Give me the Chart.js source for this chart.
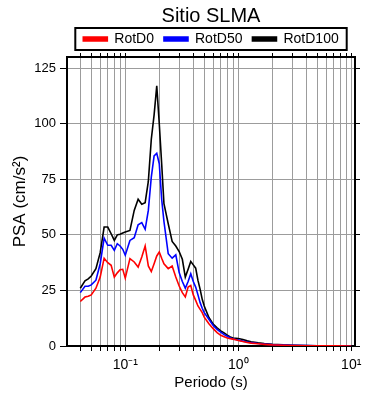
<!DOCTYPE html>
<html>
<head>
<meta charset="utf-8">
<script src="https://cdn.jsdelivr.net/npm/chart.js@4.4.1/dist/chart.umd.min.js"></script>
<style>
  body { margin: 0; background: #fff; }
</style>
</head>
<body>
<canvas id="psaChart" width="390" height="400"></canvas>
<script>
// Periodos (s)
const periodos = [
  0.04, 0.044, 0.047, 0.05, 0.055, 0.06, 0.065, 0.07, 0.075, 0.08, 0.085, 0.09, 0.095, 0.1,
  0.11, 0.12, 0.13, 0.14, 0.15, 0.16, 0.17, 0.18, 0.19, 0.2, 0.21, 0.22, 0.24, 0.26, 0.28, 0.3,
  0.32, 0.34, 0.36, 0.38, 0.4, 0.42, 0.44, 0.46, 0.48, 0.5, 0.55, 0.6, 0.65, 0.7, 0.75, 0.8,
  0.85, 0.9, 0.95, 1.0, 1.1, 1.2, 1.3, 1.5, 1.7, 2.0, 2.5, 3.0, 4.0, 5.0, 6.0, 7.5, 10
];

// PSA (cm/s2)
const rotD0 = [
  20, 22, 22.4, 23, 26, 31, 39.5, 37.5, 36.3, 31, 32.9, 34.3, 34.5, 30.5,
  39.3, 37.8, 35.5, 40, 45, 36, 33.5, 37, 40.5, 42.3, 39.5, 37, 34.8, 36, 31, 27,
  24, 22.1, 26.5, 27.2, 23, 20.5, 18, 16.5, 15, 13, 10, 7.8, 6, 4.8, 4.2, 3.6,
  3.3, 3.1, 2.8, 2.5, 2.0, 1.6, 1.3, 1.0, 0.75, 0.5, 0.35, 0.25, 0.14, 0.09, 0.06, 0.04, 0.02
];
const rotD50 = [
  24, 26.9, 26.9, 27.5, 29.6, 37, 48.5, 45.3, 45.3, 43, 46, 45, 43.5, 40.8,
  47.5, 48.7, 54.5, 55.5, 52.5, 61, 76, 85.5, 86.7, 82, 66, 56, 41.5, 39.5, 41, 33,
  29, 26, 29, 32.5, 29, 26.5, 23, 19.5, 17, 15, 12, 9.2, 7.5, 6.2, 5.1, 4.4,
  3.7, 3.2, 2.9, 2.7, 2.2, 1.8, 1.5, 1.1, 0.85, 0.6, 0.4, 0.28, 0.16, 0.1, 0.07, 0.04, 0.02
];
const rotD100 = [
  26, 29.3, 30.2, 31.5, 34.8, 42, 53.5, 53.5, 50.5, 47.5, 50, 50.3, 50.8, 51.3,
  52, 61, 66, 63.8, 64.5, 74, 93, 104, 117, 100, 82, 64, 55, 47, 45, 42.5,
  39, 31, 34.5, 38, 36.5, 35, 29.5, 25.5, 21, 18, 12.8, 9.8, 8.2, 6.8, 5.9, 4.9,
  4.1, 3.6, 3.5, 3.4, 2.9, 2.3, 1.9, 1.4, 1.1, 0.8, 0.5, 0.35, 0.2, 0.12, 0.08, 0.05, 0.03
];

// Marcas de los ejes
const xTicks = [
  0.04, 0.05, 0.06, 0.07, 0.08, 0.09,
  0.1, 0.2, 0.3, 0.4, 0.5, 0.6, 0.7, 0.8, 0.9,
  1, 2, 3, 4, 5, 6, 7, 8, 9, 10
];
const xTickLabels = [[0.1, '10⁻¹'], [1, '10⁰'], [10, '10¹']];
const yTicks = [0, 25, 50, 75, 100, 125];

Chart.defaults.font.family = "'Liberation Sans', Arial, Helvetica, sans-serif";
Chart.defaults.color = '#000';

const gridGray = '#9c9c9c';

function toXY(values) {
  return periodos.map((t, i) => ({ x: t, y: values[i] }));
}

function xLabel(v) {
  const found = xTickLabels.find(p => Math.abs(p[0] - v) < 1e-9);
  return found ? found[1] : '';
}

// recuadro alrededor de la leyenda
const legendFrame = {
  id: 'legendFrame',
  afterDraw(chart) {
    const boxes = chart.legend.legendHitBoxes;
    if (!boxes || !boxes.length) return;
    const first = boxes[0];
    const last = boxes[boxes.length - 1];
    const ctx = chart.ctx;
    ctx.save();
    ctx.strokeStyle = '#000';
    ctx.lineWidth = 2;
    ctx.strokeRect(first.left - 8, first.top - 4,
      last.left + last.width + 8 - (first.left - 8), first.height + 8);
    ctx.restore();
  }
};

new Chart(document.getElementById('psaChart'), {
  type: 'line',
  data: {
    datasets: [
      { label: 'RotD0', data: toXY(rotD0), borderColor: '#ff0000', backgroundColor: '#ff0000' },
      { label: 'RotD50', data: toXY(rotD50), borderColor: '#0000ff', backgroundColor: '#0000ff' },
      { label: 'RotD100', data: toXY(rotD100), borderColor: '#000000', backgroundColor: '#000000' }
    ]
  },
  options: {
    responsive: false,
    animation: false,
    devicePixelRatio: 1,
    layout: { padding: 0 },
    elements: {
      line: { borderWidth: 1.6, tension: 0, fill: false },
      point: { radius: 0 }
    },
    plugins: {
      title: {
        display: true,
        text: 'Sitio SLMA',
        fullSize: false,
        color: '#000',
        font: { size: 20, weight: 'normal' },
        padding: { top: 4, bottom: -6 }
      },
      legend: {
        display: true,
        fullSize: false,
        labels: {
          boxWidth: 24,
          boxHeight: 4,
          padding: 10,
          color: '#000',
          font: { size: 14 }
        }
      },
      tooltip: { enabled: false }
    },
    scales: {
      x: {
        type: 'logarithmic',
        position: 'bottom',
        min: 0.0305,
        max: 10.8,
        afterBuildTicks: s => { s.ticks = xTicks.map(v => ({ value: v })); },
        afterFit: s => { s.height = 54; },
        grid: { color: gridGray, tickColor: '#000', tickLength: 5 },
        border: { color: '#000', width: 2 },
        ticks: { autoSkip: false, maxRotation: 0, padding: 6, color: '#000', font: { size: 14 }, callback: v => xLabel(v) },
        title: { display: true, text: 'Periodo (s)', color: '#000', font: { size: 15 }, padding: { top: 0, bottom: 8 } }
      },
      x2: {
        type: 'logarithmic',
        position: 'top',
        min: 0.0305,
        max: 10.8,
        afterBuildTicks: s => { s.ticks = xTicks.map(v => ({ value: v })); },
        afterFit: s => { s.height = 1; },
        grid: { drawOnChartArea: false, tickColor: '#000', tickLength: 4 },
        border: { color: '#000', width: 2 },
        ticks: { display: false }
      },
      y: {
        position: 'left',
        min: 0,
        max: 130,
        afterBuildTicks: s => { s.ticks = yTicks.map(v => ({ value: v })); },
        afterFit: s => { s.width = 67; },
        grid: {
          color: c => (c.tick && c.tick.value === 0) ? 'rgba(0,0,0,0)' : gridGray,
          tickColor: '#000',
          tickLength: 7
        },
        border: { color: '#000', width: 2 },
        ticks: { padding: 4, color: '#000', font: { size: 13 } },
        title: { display: true, text: 'PSA (cm/s²)', color: '#000', font: { size: 17 }, padding: { top: 10, bottom: 0 } }
      },
      y2: {
        position: 'right',
        min: 0,
        max: 130,
        afterBuildTicks: s => { s.ticks = yTicks.map(v => ({ value: v })); },
        afterFit: s => { s.width = 35; },
        grid: { drawOnChartArea: false, tickColor: '#000', tickLength: 5 },
        border: { color: '#000', width: 2 },
        ticks: { display: false }
      }
    }
  },
  plugins: [legendFrame]
});
</script>
</body>
</html>
